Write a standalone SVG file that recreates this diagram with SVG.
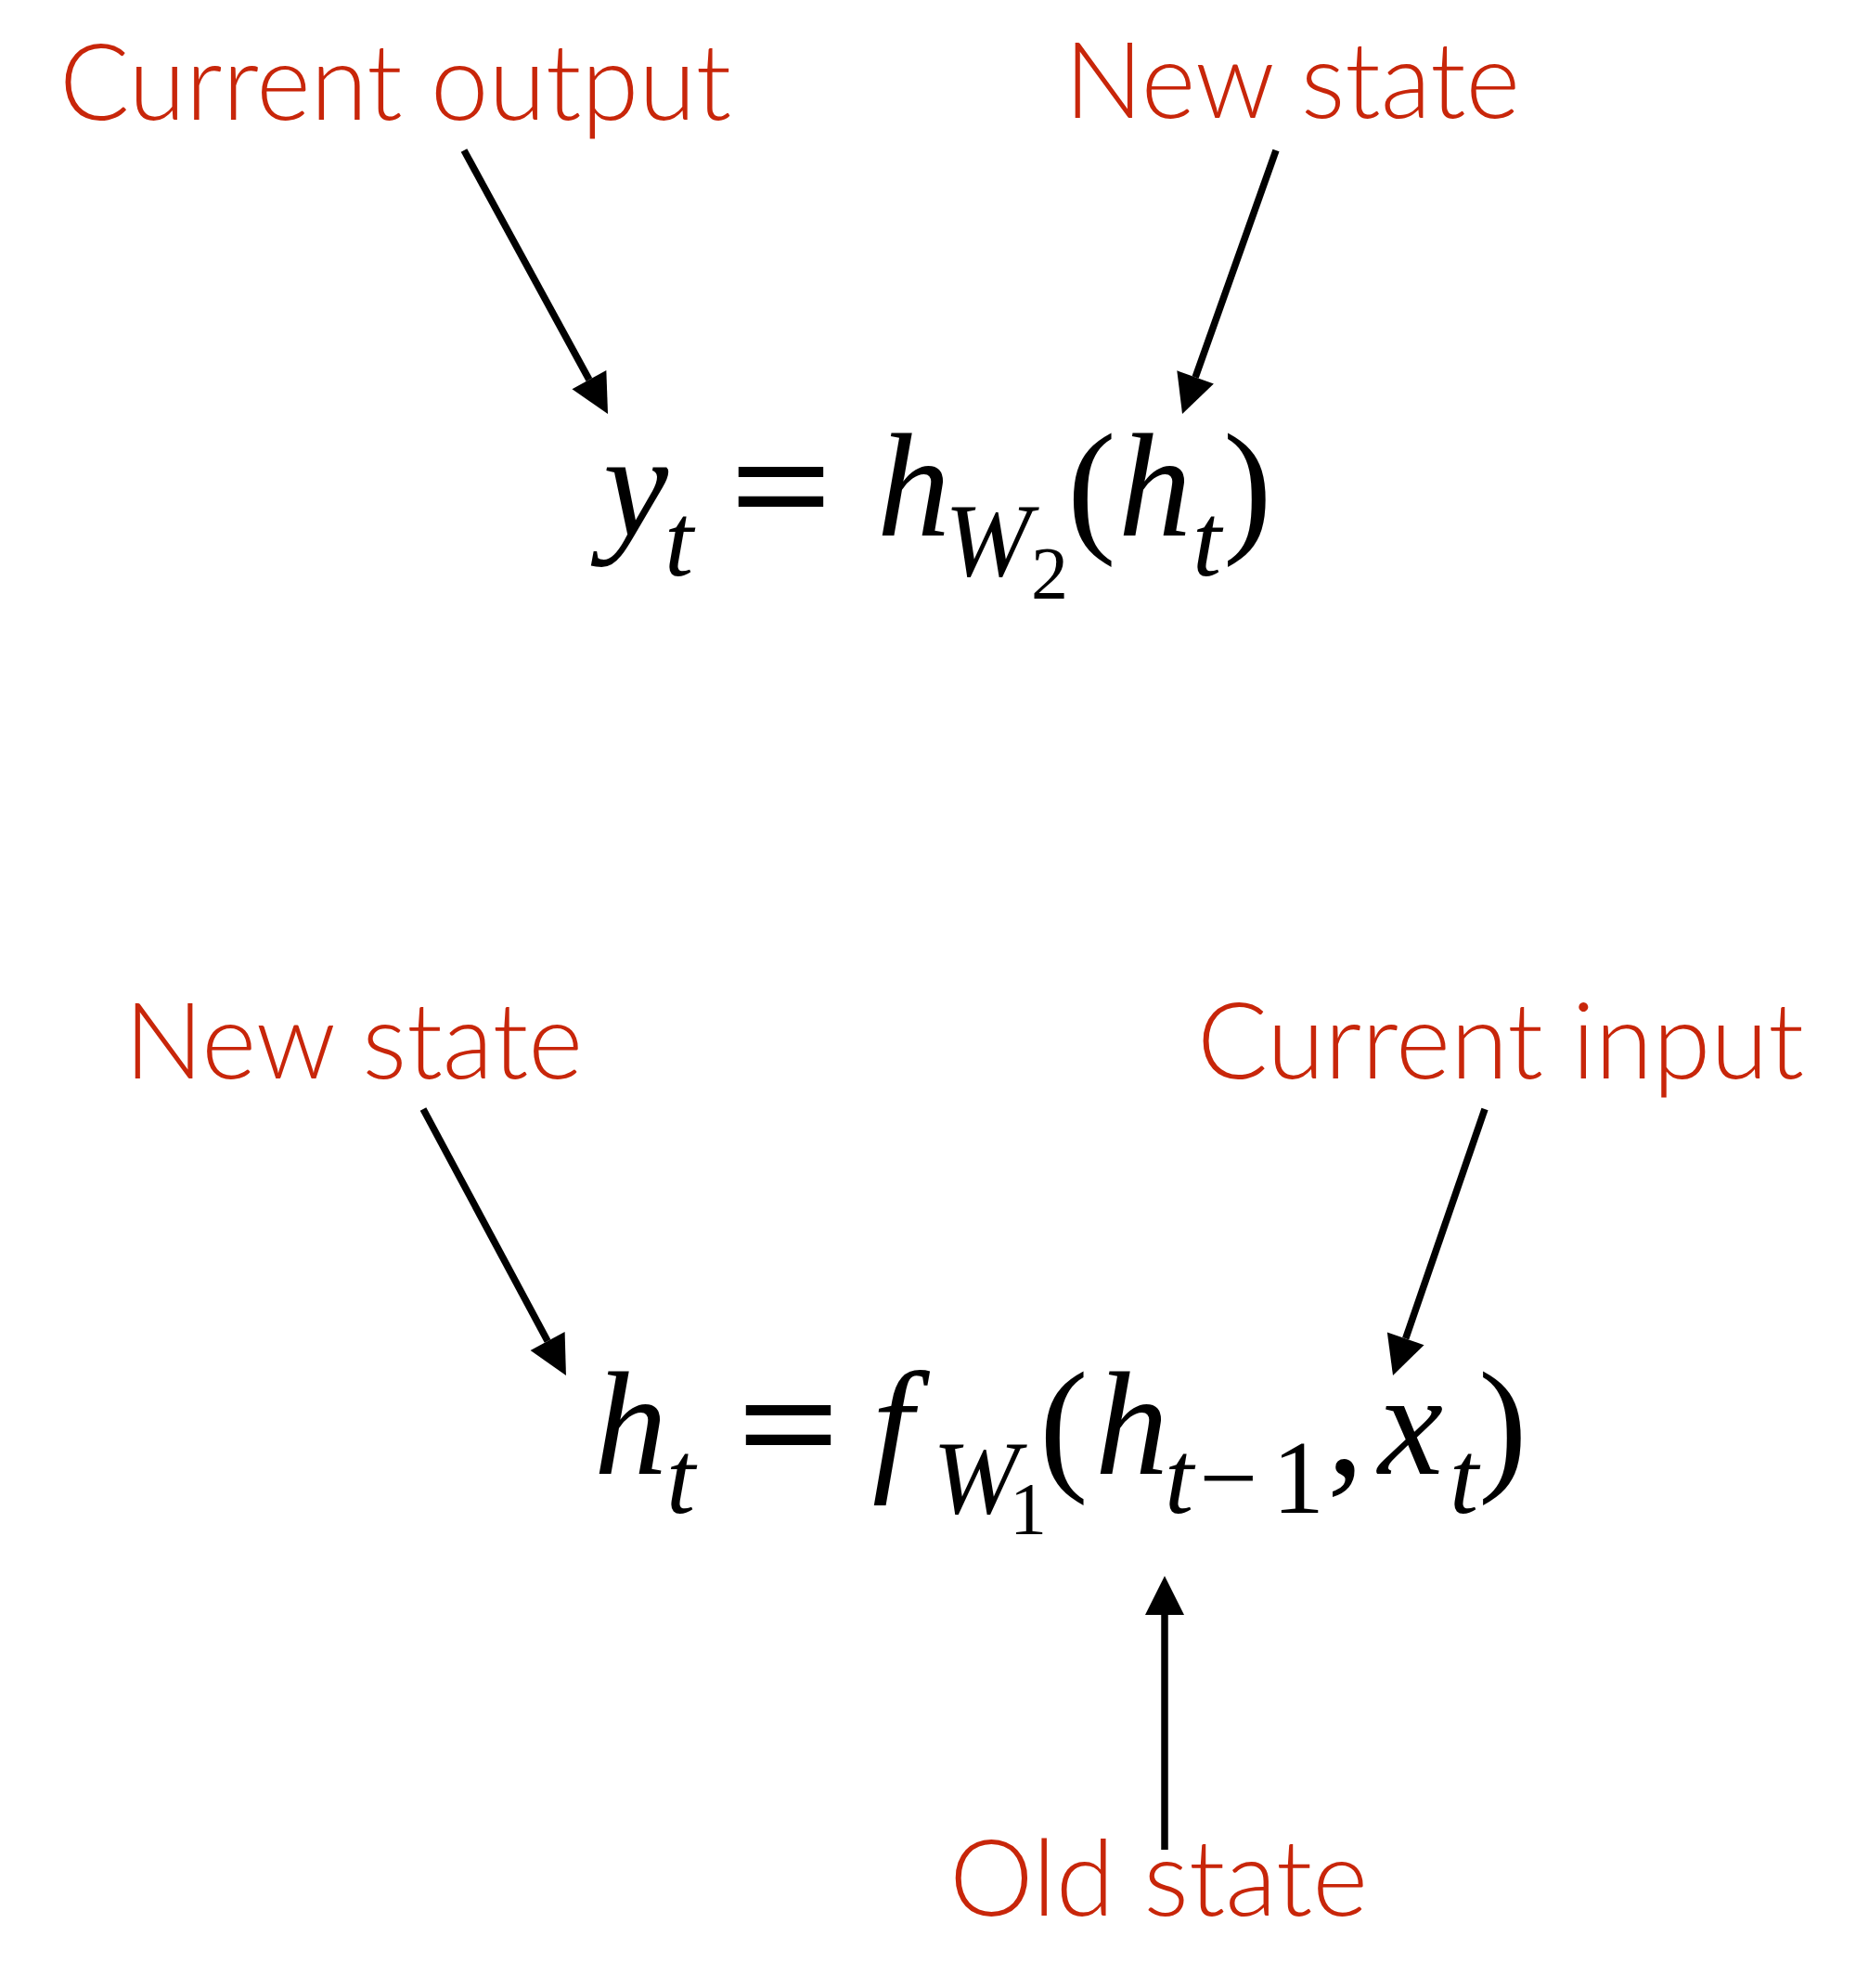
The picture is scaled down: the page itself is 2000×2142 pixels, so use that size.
<svg xmlns="http://www.w3.org/2000/svg" width="2000" height="2142" viewBox="0 0 2000 2142">
<style>
.lbl{font-family:Lato,Roboto,"Liberation Sans",Arial,sans-serif;font-weight:300;font-size:114px;fill:#C8260A}
.m{font-family:"Liberation Serif","Times New Roman",serif;fill:#000}
.i{font-style:italic}
.eq{font-family:"Liberation Serif","Times New Roman",serif;font-weight:bold;font-size:158px;fill:#000}
.arr{stroke:#000;stroke-width:7.5;fill:none}
</style>
<defs>
<marker id="ah" markerUnits="userSpaceOnUse" markerWidth="44" markerHeight="44" refX="0" refY="21" orient="auto" overflow="visible">
<path d="M0,0 L42,21 L0,42 z" fill="#000"/>
</marker>
</defs>
<rect width="2000" height="2142" fill="#fff"/>
<g id="connectors">
<line class="arr" x1="500" y1="162" x2="634.9" y2="409.1" marker-end="url(#ah)"/>
<line class="arr" x1="1375" y1="162" x2="1288.1" y2="406.4" marker-end="url(#ah)"/>
<line class="arr" x1="456" y1="1195" x2="590.1" y2="1445" marker-end="url(#ah)"/>
<line class="arr" x1="1600" y1="1195" x2="1514.7" y2="1442.3" marker-end="url(#ah)"/>
<line class="arr" x1="1255" y1="1993" x2="1255" y2="1740" marker-end="url(#ah)"/>
</g>
<g id="label-current-output"><text class="lbl" x="64" y="129" textLength="724" lengthAdjust="spacingAndGlyphs">Current output</text></g>
<g id="label-new-state-top"><text class="lbl" x="1147" y="127" textLength="491" lengthAdjust="spacingAndGlyphs">New state</text></g>
<g id="label-new-state-bottom"><text class="lbl" x="134" y="1162" textLength="494" lengthAdjust="spacingAndGlyphs">New state</text></g>
<g id="label-current-input"><text class="lbl" x="1290" y="1162" textLength="654" lengthAdjust="spacingAndGlyphs">Current input</text></g>
<g id="label-old-state"><text class="lbl" x="1023" y="2064" textLength="451" lengthAdjust="spacingAndGlyphs">Old state</text></g>
<g id="equation-output">
<text class="m" font-size="158"><tspan class="i" x="650" y="577">y</tspan><tspan class="i" x="716" y="620" font-size="112">t</tspan></text>
<text class="eq" x="786" y="577" textLength="112" lengthAdjust="spacingAndGlyphs">=</text>
<text class="m" font-size="158"><tspan class="i" x="945" y="577">h</tspan><tspan class="i" x="1018" y="620" font-size="112">W</tspan><tspan x="1111" y="645" font-size="80">2</tspan><tspan x="1150" y="577">(</tspan><tspan class="i" x="1205" y="577">h</tspan><tspan class="i" x="1285" y="620" font-size="112">t</tspan><tspan x="1318" y="577">)</tspan></text>
</g>
<g id="equation-state">
<text class="m" font-size="158"><tspan class="i" x="640" y="1588">h</tspan><tspan class="i" x="718" y="1630" font-size="112">t</tspan></text>
<text class="eq" x="794" y="1588" textLength="112" lengthAdjust="spacingAndGlyphs">=</text>
<text class="m" font-size="158"><tspan class="i" x="940" y="1588">f</tspan><tspan class="i" x="1005" y="1630" font-size="112">W</tspan><tspan x="1088" y="1653" font-size="80">1</tspan><tspan x="1120" y="1588">(</tspan><tspan class="i" x="1180" y="1588">h</tspan><tspan class="i" x="1255" y="1630" font-size="112">t</tspan><tspan x="1292" y="1630" font-size="112">−</tspan><tspan x="1371" y="1630" font-size="112">1</tspan><tspan x="1430" y="1588">,</tspan><tspan class="i" x="1485" y="1588">x</tspan><tspan class="i" x="1562" y="1630" font-size="112">t</tspan><tspan x="1593" y="1588">)</tspan></text>
</g>
</svg>
